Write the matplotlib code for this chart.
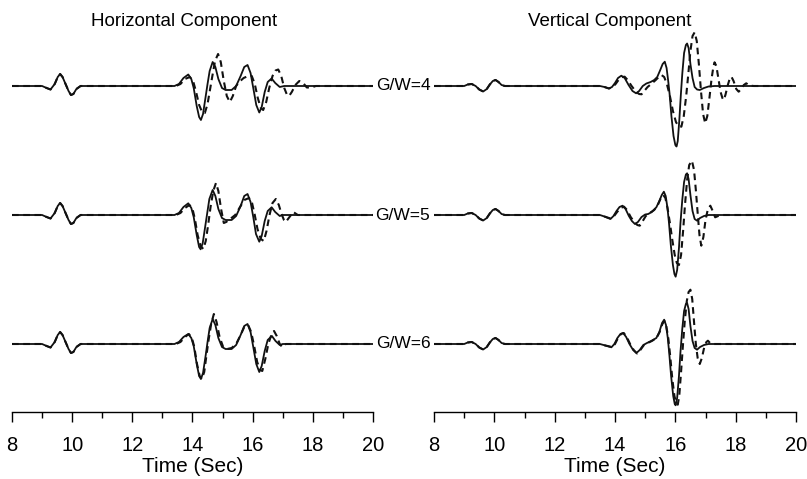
import matplotlib
matplotlib.use('Agg')
import matplotlib.pyplot as plt
import numpy as np

plt.rcParams['font.family'] = ['Liberation Sans', 'DejaVu Sans']

# ---------------- data (time in s, amplitude in arbitrary units) ----------------
rows = ['G/W=4', 'G/W=5', 'G/W=6']

# small early arrival, horizontal component
h_early_t = [8.0, 9.0, 9.15, 9.28, 9.42, 9.52, 9.6, 9.68, 9.78, 9.88, 9.96, 10.04, 10.14, 10.28]
h_early_a = [0, 0, -2, -3.5, 2, 9, 12, 9, 2, -5, -9, -8, -3, 0]

# small early arrival, vertical component
v_early_t = [8.0, 9.0, 9.12, 9.25, 9.38, 9.5, 9.63, 9.75, 9.85, 9.95, 10.04, 10.14, 10.24, 10.35]
v_early_a = [0, 0, 1.5, 2, 0, -3.5, -5.5, -3, 1.5, 5, 6, 4, 1, 0]

# horizontal, solid
h4_solid_t = [13.4, 13.55, 13.7, 13.86, 13.96, 14.04, 14.14, 14.22, 14.28, 14.35, 14.44, 14.5, 14.57, 14.67,
              14.76, 14.86, 14.98, 15.1, 15.3, 15.45, 15.6, 15.72, 15.83, 15.93, 16.02, 16.12, 16.22, 16.3,
              16.4, 16.5, 16.63, 16.75, 16.9, 17.05, 20.0]
h4_solid_a = [0, 2, 8, 11.5, 7, -2, -20, -31, -34, -28, -10, 2, 15, 24,
              19, 7, -2, -4, -4, 0, 10, 19, 21, 13, -2, -19, -26.5, -21,
              -6, 4, 7.5, 3, -1, 0, 0]
h5_solid_t = [13.4, 13.55, 13.7, 13.86, 13.96, 14.04, 14.14, 14.22, 14.27, 14.34, 14.43, 14.49, 14.56, 14.67,
              14.76, 14.86, 14.98, 15.1, 15.3, 15.45, 15.6, 15.72, 15.83, 15.93, 16.02, 16.11, 16.22, 16.3,
              16.4, 16.5, 16.63, 16.75, 16.9, 17.0, 20.0]
h5_solid_a = [0, 2, 8, 11.7, 7, -2, -20, -32, -34.3, -28, -10, 2, 16, 25,
              19, 6, -3, -5, -5, -1, 9, 19, 21, 13, -2, -19, -26.7, -21,
              -6, 4, 7.7, 3, -1, 0, 0]
h6_solid_t = [13.4, 13.55, 13.7, 13.86, 13.96, 14.04, 14.14, 14.22, 14.28, 14.35, 14.44, 14.5, 14.57, 14.67,
              14.76, 14.86, 14.98, 15.1, 15.3, 15.45, 15.6, 15.72, 15.83, 15.93, 16.02, 16.12, 16.22, 16.3,
              16.4, 16.5, 16.64, 16.76, 16.9, 17.0, 20.0]
h6_solid_a = [0, 2, 7, 10, 6, -2, -20, -32, -35, -29, -11, 2, 16, 25,
              19, 6, -3, -5, -5, -1, 9, 18, 20, 12, -3, -20, -28, -22,
              -7, 4, 8, 3, -1, 0, 0]

# horizontal, dashed
h4_dash_t = [13.45, 13.6, 13.75, 13.91, 14.02, 14.12, 14.22, 14.32, 14.41, 14.5, 14.58, 14.66, 14.75, 14.85,
             14.94, 15.04, 15.14, 15.24, 15.34, 15.45, 15.55, 15.7, 15.85, 15.97, 16.07, 16.17, 16.27, 16.35,
             16.45, 16.55, 16.66, 16.76, 16.85, 16.95, 17.05, 17.13, 17.21, 17.3, 17.42, 17.55, 17.68, 17.8,
             17.95, 18.1, 20.0]
h4_dash_a = [0, 2, 7, 9, 5, -6, -19, -26, -27, -18, -4, 10, 25, 32,
             24, 5, -10, -16, -10, 0, 4, 8, 10, 10, 2, -12, -22, -24,
             -16, -2, 10, 15.5, 16.5, 10, -2, -8, -10, -6, 1, 5, 3, -1.5,
             -1.5, 0, 0]
h5_dash_t = [13.45, 13.6, 13.75, 13.9, 14.0, 14.08, 14.17, 14.27, 14.36, 14.44, 14.52, 14.6, 14.69, 14.78,
             14.86, 14.95, 15.04, 15.12, 15.25, 15.42, 15.58, 15.72, 15.88, 15.98, 16.07, 16.16, 16.27, 16.37,
             16.46, 16.56, 16.66, 16.77, 16.87, 16.96, 17.04, 17.1, 17.2, 17.35, 17.5, 20.0]
h5_dash_a = [0, 2, 7, 10, 6, -4, -20, -31, -34, -26, -10, 8, 24, 32,
             24, 6, -8, -7, -4, 0, 8, 15, 17, 12, 0, -14, -24, -26,
             -16, 0, 12, 16, 10, 1, -5, -7, -3, 3, 0, 0]
h6_dash_t = [13.45, 13.6, 13.75, 13.88, 13.98, 14.06, 14.15, 14.24, 14.31, 14.39, 14.47, 14.54, 14.62, 14.71,
             14.8, 14.9, 15.02, 15.15, 15.3, 15.45, 15.6, 15.72, 15.85, 15.95, 16.05, 16.15, 16.25, 16.32,
             16.42, 16.52, 16.62, 16.71, 16.8, 16.9, 16.98, 17.1, 20.0]
h6_dash_a = [0, 2, 7, 10, 6, -3, -20, -32, -35, -28, -10, 5, 20, 30,
             22, 7, -3, -5, -4, 0, 9, 17, 19, 12, -2, -18, -26, -27,
             -15, 0, 9, 13, 8, 0, -3, 0, 0]

# vertical, solid
v4_solid_t = [13.5, 13.65, 13.8, 13.9, 14.0, 14.1, 14.21, 14.32, 14.45, 14.58, 14.7, 14.8, 14.92, 15.04,
              15.18, 15.3, 15.4, 15.5, 15.58, 15.65, 15.71, 15.76, 15.81, 15.87, 15.94, 16.0, 16.04, 16.08,
              16.13, 16.18, 16.23, 16.29, 16.35, 16.39, 16.44, 16.5, 16.57, 16.64, 16.72, 16.81, 16.95, 17.1,
              17.3, 20.0]
v4_solid_a = [0, -1, -2.5, -1, 3, 8, 10.3, 8, 1, -5, -7.3, -5, 0, 2.5,
              4, 6, 9, 16, 22, 24.3, 18, 6, -8, -30, -50, -59, -60.5, -55,
              -35, -10, 12, 33, 41, 42.5, 38, 22, 8, -1, -3.5, -4, -2, -0.5,
              0, 0]
v5_solid_t = [13.5, 13.65, 13.85, 13.95, 14.05, 14.15, 14.25, 14.35, 14.46, 14.56, 14.66, 14.76, 14.88, 15.0,
              15.1, 15.22, 15.37, 15.47, 15.55, 15.62, 15.68, 15.74, 15.79, 15.85, 15.92, 15.97, 16.01, 16.06,
              16.12, 16.17, 16.23, 16.29, 16.35, 16.39, 16.44, 16.5, 16.57, 16.64, 16.72, 16.82, 16.95, 17.1,
              20.0]
v5_solid_a = [0, -1.5, -4, -1, 4, 8, 9.3, 6, -1, -6, -9, -7, -2, 0.5,
              1, 3, 7.7, 14, 20, 23.3, 19, 7, -8, -30, -50, -59, -61.7, -55,
              -33, -8, 15, 33, 40.5, 41.7, 36, 20, 4, -4, -5.7, -3, -1, 0,
              0]
v6_solid_t = [13.5, 13.68, 13.88, 13.98, 14.08, 14.18, 14.27, 14.37, 14.48, 14.6, 14.71, 14.82, 14.94, 15.06,
              15.2, 15.37, 15.47, 15.56, 15.63, 15.69, 15.75, 15.8, 15.86, 15.93, 15.98, 16.01, 16.06, 16.12,
              16.17, 16.23, 16.29, 16.35, 16.39, 16.44, 16.5, 16.57, 16.64, 16.72, 16.82, 16.95, 17.1, 20.0]
v6_solid_a = [0, -1.5, -3.3, 0, 6, 10, 11, 7, 0, -6, -9, -6, -1, 1,
              3, 6, 12, 21, 24.3, 19, 6, -10, -32, -52, -60, -61.3, -54, -32,
              -8, 15, 33, 40, 41, 35, 18, 3, -4, -5.7, -3, -1, 0, 0]

# vertical, dashed
v4_dash_t = [13.5, 13.65, 13.8, 13.92, 14.02, 14.14, 14.25, 14.32, 14.42, 14.55, 14.7, 14.8, 14.88, 14.97,
             15.08, 15.2, 15.35, 15.45, 15.54, 15.63, 15.72, 15.82, 15.92, 16.02, 16.1, 16.2, 16.28, 16.36,
             16.43, 16.5, 16.57, 16.64, 16.71, 16.78, 16.85, 16.92, 16.99, 17.06, 17.13, 17.2, 17.26, 17.3,
             17.36, 17.43, 17.5, 17.56, 17.6, 17.66, 17.74, 17.8, 17.86, 17.93, 18.02, 18.1, 18.18, 18.27,
             18.35, 18.45, 18.6, 20.0]
v4_dash_a = [0, -1, -2.5, -1, 2, 7, 9, 9.3, 6, 0, -6, -8, -8.3, -5,
             -1, 2, 6, 9, 11, 9, 2, -10, -25, -36, -40, -40.7, -30, -10,
             12, 35, 50, 53.7, 45, 22, -5, -28, -37.3, -30, -12, 7, 19, 23.7,
             20, 7, -6, -12, -14, -9, 1, 7, 9.3, 5, -3, -5.7, -3, 1,
             2.7, 0.5, 0, 0]
v5_dash_t = [13.5, 13.65, 13.85, 13.97, 14.07, 14.18, 14.3, 14.4, 14.52, 14.64, 14.74, 14.82, 14.92, 15.02,
             15.15, 15.3, 15.42, 15.52, 15.6, 15.67, 15.74, 15.82, 15.9, 15.98, 16.05, 16.12, 16.19, 16.26,
             16.32, 16.39, 16.46, 16.55, 16.62, 16.68, 16.74, 16.8, 16.86, 16.93, 17.0, 17.08, 17.16, 17.24,
             17.32, 17.42, 17.55, 20.0]
v5_dash_a = [0, -1.5, -3.5, -1, 3, 7, 8.3, 5, -2, -7, -10, -10.7, -6, -1,
             2, 5, 10, 17, 20, 17, 7, -8, -25, -40, -48, -50, -40, -15,
             10, 35, 50, 54.3, 45, 25, 2, -20, -30.7, -22, -5, 6, 9.3, 4,
             -2.3, -1, 0, 0]
v6_dash_t = [13.5, 13.68, 13.9, 14.0, 14.1, 14.2, 14.29, 14.39, 14.5, 14.62, 14.73, 14.84, 14.96, 15.08,
             15.22, 15.38, 15.48, 15.57, 15.64, 15.7, 15.77, 15.83, 15.9, 15.97, 16.03, 16.08, 16.13, 16.19,
             16.25, 16.31, 16.38, 16.44, 16.5, 16.56, 16.62, 16.68, 16.74, 16.81, 16.88, 16.96, 17.03, 17.08,
             17.15, 17.25, 20.0]
v6_dash_a = [0, -1.5, -3, 0, 6, 10, 11, 7, 0, -6, -9.5, -6, -1, 1,
             3, 6, 12, 20, 23, 18, 5, -12, -35, -52, -59, -60.7, -52, -28,
             -2, 22, 43, 52, 54.3, 45, 22, 0, -14, -20, -14, -3, 2, 3.3,
             1, 0, 0]

h_solid = [(h4_solid_t, h4_solid_a), (h5_solid_t, h5_solid_a), (h6_solid_t, h6_solid_a)]
h_dash = [(h4_dash_t, h4_dash_a), (h5_dash_t, h5_dash_a), (h6_dash_t, h6_dash_a)]
v_solid = [(v4_solid_t, v4_solid_a), (v5_solid_t, v5_solid_a), (v6_solid_t, v6_solid_a)]
v_dash = [(v4_dash_t, v4_dash_a), (v5_dash_t, v5_dash_a), (v6_dash_t, v6_dash_a)]

# ---------------- layout ----------------
W, H = 807, 479
fig = plt.figure(figsize=(W / 100, H / 100), dpi=100)

y_bot, y_top = 412, 5           # pixel rows of the axes bottom / top
row_px = [86, 215, 344]         # pixel rows of each trace baseline


def px_to_amp(py):
    # amplitude units are 1 px, measured from the first baseline
    return row_px[0] - py


def draw_panel(x0, x1, early_t, early_a, solid, dash, title, title_x):
    ax = fig.add_axes([x0 / W, (H - y_bot) / H, (x1 - x0) / W, (y_bot - y_top) / H])
    for i in range(3):
        off = px_to_amp(row_px[i])
        st, sa = solid[i]
        dt, da = dash[i]
        ax.plot(np.array(early_t + st), np.array(early_a + sa) + off,
                color='#111111', lw=1.3, solid_joinstyle='round')
        ax.plot(np.array(early_t + dt), np.array(early_a + da) + off,
                color='#111111', lw=1.5, dashes=(3.2, 2.2))
    ax.set_xlim(8, 20)
    ax.set_ylim(px_to_amp(y_bot), px_to_amp(y_top))
    for s in ['top', 'left', 'right']:
        ax.spines[s].set_visible(False)
    ax.spines['bottom'].set_linewidth(1.0)
    ax.set_yticks([])
    ax.set_xticks(np.arange(8, 21, 2))
    ax.set_xticks(np.arange(9, 20, 2), minor=True)
    ax.tick_params(axis='x', which='major', length=7, width=1.0, direction='out',
                   labelsize=14.5, pad=10)
    ax.tick_params(axis='x', which='minor', length=4, width=1.0, direction='out')
    ax.set_xlabel('Time (Sec)', fontsize=15, labelpad=2)
    ax.patch.set_alpha(0)
    fig.text(title_x / W, 1 - 22 / H, title, ha='center', va='center', fontsize=13.5)
    return ax


draw_panel(12, 373, h_early_t, h_early_a, h_solid, h_dash, 'Horizontal Component', 184)
draw_panel(434, 796, v_early_t, v_early_a, v_solid, v_dash, 'Vertical Component', 610)

for i, lab in enumerate(rows):
    fig.text(403 / W, 1 - row_px[i] / H, lab, ha='center', va='center', fontsize=12.5,
             bbox=dict(facecolor='white', edgecolor='none', pad=0.5))

fig.savefig('out.png', dpi=100)
